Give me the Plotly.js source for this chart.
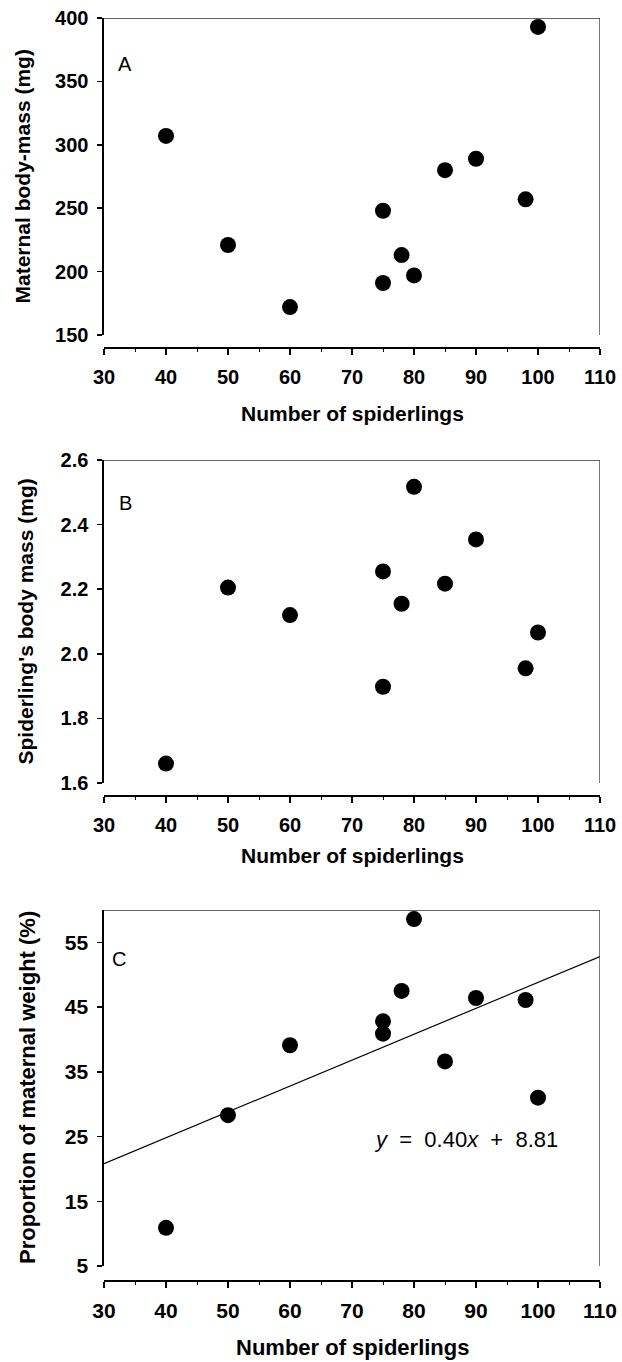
<!DOCTYPE html>
<html>
<head>
<meta charset="utf-8">
<script src="https://cdn.plot.ly/plotly-3.0.1.min.js"></script>
<style>html,body{margin:0;padding:0;background:#fff;}#chart{width:622px;height:1362px;}</style>
</head>
<body>
<div id="chart"></div>
<script>
// ---- data ----
const xTickVals = [30, 40, 50, 60, 70, 80, 90, 100, 110];

const spiderlingsA = [40, 50, 60, 75, 75, 78, 80, 85, 90, 98, 100];
const maternalMass = [307, 221, 172, 248, 191, 213, 197, 280, 289, 257, 393];
const yTicksA = [150, 200, 250, 300, 350, 400];

const spiderlingsB = [40, 50, 60, 75, 75, 78, 80, 85, 90, 98, 100];
const spiderlingMass = [1.66, 2.205, 2.12, 2.255, 1.898, 2.155, 2.517, 2.217, 2.354, 1.955, 2.066];
const yTicksB = [1.6, 1.8, 2.0, 2.2, 2.4, 2.6];

const spiderlingsC = [40, 50, 60, 75, 75, 78, 80, 85, 90, 98, 100];
const proportionWeight = [10.9, 28.3, 39.1, 42.8, 40.9, 47.5, 58.6, 36.6, 46.4, 46.1, 31.0];
const yTicksC = [5, 15, 25, 35, 45, 55];

const fitX = [30, 110];
const fitY = [20.81, 52.81];

const panelLetters = ["A", "B", "C"];
const xTitle = "Number of spiderlings";
const yTitles = ["Maternal body-mass (mg)", "Spiderling's body mass (mg)", "Proportion of maternal weight (%)"];
const equationText = "<i>y</i>\u00a0\u00a0=\u00a0\u00a00.40<i>x</i>\u00a0\u00a0+\u00a0\u00a08.81";

// ---- layout helpers ----
const W = 622, H = 1362;
const fy = p => 1 - p / H;
const fx = p => p / W;

const FONT = "Liberation Sans, Arial, Helvetica, sans-serif";
const tf = s => ({family: FONT, size: s, color: "#000", weight: 700});

function xAxis(pos, fs) {
  return {
    domain: [fx(104), fx(600)], anchor: "free", position: fy(pos),
    range: [30, 110], tickvals: xTickVals, ticks: "outside", ticklen: 6, tickwidth: 1.5,
    tickcolor: "#000", showline: true, linewidth: 1.6, linecolor: "#000",
    showgrid: false, zeroline: false, tickfont: tf(fs), ticklabelstandoff: 5,
    minor: {dtick: 5, ticks: "outside", ticklen: 3, tickwidth: 1, tickcolor: "#000", showgrid: false},
    fixedrange: true
  };
}
function yAxis(xa, top, bottom, range, vals, fmt, fs) {
  return {
    domain: [fy(bottom), fy(top)], anchor: xa, range: range, tickvals: vals,
    tickformat: fmt, ticks: "outside", ticklen: 5, tickwidth: 1.5, tickcolor: "#000",
    showline: true, linewidth: 1.6, linecolor: "#000", showgrid: false, zeroline: false,
    tickfont: tf(fs), ticklabelstandoff: 5, fixedrange: true
  };
}

const marker = {color: "#000", size: 16, line: {width: 0}};
const traces = [
  {x: spiderlingsA, y: maternalMass, xaxis: "x", yaxis: "y", mode: "markers", type: "scatter", marker: marker, cliponaxis: false},
  {x: spiderlingsB, y: spiderlingMass, xaxis: "x2", yaxis: "y2", mode: "markers", type: "scatter", marker: marker, cliponaxis: false},
  {x: fitX, y: fitY, xaxis: "x3", yaxis: "y3", mode: "lines", type: "scatter", line: {color: "#000", width: 1.2}},
  {x: spiderlingsC, y: proportionWeight, xaxis: "x3", yaxis: "y3", mode: "markers", type: "scatter", marker: marker, cliponaxis: false}
];

const panels = [
  {xa: "x", ya: "y", top: 18, bottom: 335, xpos: 347, range: [150, 400], ticks: yTicksA, fmt: "d", letterY: 64, letterX: 125, titleX: 413, ytitleX: 22, fs: 20, ts: 21},
  {xa: "x2", ya: "y2", top: 460, bottom: 783, xpos: 795, range: [1.6, 2.6], ticks: yTicksB, fmt: ".1f", letterY: 503, letterX: 125, titleX: 855, ytitleX: 25, fs: 20, ts: 21},
  {xa: "x3", ya: "y3", top: 910, bottom: 1266, xpos: 1280, range: [5, 60], ticks: yTicksC, fmt: "d", letterY: 959, letterX: 119, titleX: 1347, ytitleX: 27, fs: 21, ts: 22}
];

const layout = {
  width: W, height: H, margin: {l: 0, r: 0, t: 0, b: 0},
  paper_bgcolor: "#fff", plot_bgcolor: "#fff", showlegend: false,
  shapes: [], annotations: []
};

panels.forEach((p, i) => {
  const sfx = i === 0 ? "" : String(i + 1);
  layout["xaxis" + sfx] = xAxis(p.xpos, p.fs);
  layout["yaxis" + sfx] = yAxis(p.xa, p.top, p.bottom, p.range, p.ticks, p.fmt, p.fs);
  // top and right frame lines
  layout.shapes.push({type: "line", xref: p.xa, yref: p.ya, x0: 30, x1: 110, y0: p.range[1], y1: p.range[1], line: {color: "#333", width: 1.3}});
  layout.shapes.push({type: "line", xref: p.xa, yref: p.ya, x0: 110, x1: 110, y0: p.range[0], y1: p.range[1], line: {color: "#333", width: 1.3}});
  // panel letter
  layout.annotations.push({text: panelLetters[i], xref: "paper", yref: "paper", x: fx(p.letterX), y: fy(p.letterY), xanchor: "center", yanchor: "middle", showarrow: false, font: {family: FONT, size: 20, color: "#000"}});
  // x title
  layout.annotations.push({text: xTitle, xref: "paper", yref: "paper", x: fx(352), y: fy(p.titleX), xanchor: "center", yanchor: "middle", showarrow: false, font: tf(p.ts)});
  // y title
  layout.annotations.push({text: yTitles[i], xref: "paper", yref: "paper", x: fx(p.ytitleX), y: fy((p.top + p.bottom) / 2), xanchor: "center", yanchor: "middle", textangle: -90, showarrow: false, font: tf(p.ts)});
});

layout.annotations.push({text: equationText, xref: "x3", yref: "y3", x: 73.2, y: 24.6, xanchor: "left", yanchor: "middle", showarrow: false, font: {family: FONT, size: 22, color: "#000"}});

Plotly.newPlot("chart", traces, layout, {staticPlot: true, displayModeBar: false});
</script>
</body>
</html>
